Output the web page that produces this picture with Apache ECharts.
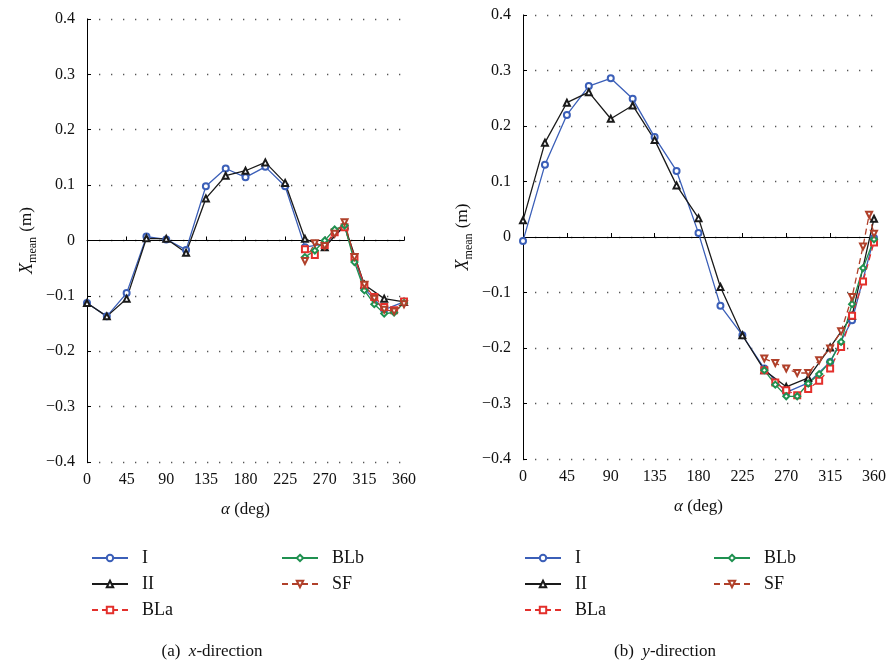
<!DOCTYPE html>
<html><head><meta charset="utf-8">
<script src="https://cdn.jsdelivr.net/npm/echarts@6/dist/echarts.min.js"></script>
<style>html,body{margin:0;padding:0;background:#fff}#c{width:893px;height:665px}</style>
</head><body><div id="c"></div>
<script>
// ---- data ----
const mainAngles = [0,22.5,45,67.5,90,112.5,135,157.5,180,202.5,225,247.5,270,292.5,315,337.5,360];
const blAngles = [247.5,258.75,270,281.25,292.5,303.75,315,326.25,337.5,348.75,360];
const sfAnglesY = [247.5,258.75,270,281.25,292.5,303.75,315,326.25,337.5,348.75,355,360];

// (a) x-direction
const I_x   = [-0.113,-0.137,-0.095,0.007,0.002,-0.017,0.098,0.130,0.114,0.133,0.098,-0.012,-0.006,0.025,-0.087,-0.125,-0.111];
const II_x  = [-0.113,-0.137,-0.105,0.004,0.003,-0.022,0.076,0.117,0.126,0.141,0.104,0.003,-0.012,0.027,-0.080,-0.105,-0.111];
const BLa_x = [-0.016,-0.026,-0.008,0.015,0.024,-0.030,-0.081,-0.102,-0.120,-0.126,-0.110];
const BLb_x = [-0.030,-0.018,0.000,0.020,0.027,-0.039,-0.090,-0.115,-0.132,-0.130,-0.113];
const SF_x  = [-0.037,-0.005,-0.010,0.012,0.033,-0.030,-0.080,-0.105,-0.125,-0.128,-0.115];

// (b) y-direction
const I_y   = [-0.007,0.130,0.220,0.272,0.286,0.249,0.180,0.119,0.007,-0.124,-0.177,-0.237,-0.280,-0.263,-0.225,-0.150,-0.002];
const II_y  = [0.030,0.170,0.242,0.261,0.213,0.237,0.175,0.093,0.034,-0.090,-0.177,-0.240,-0.270,-0.254,-0.199,-0.142,0.033];
const BLa_y = [-0.240,-0.262,-0.276,-0.285,-0.274,-0.259,-0.237,-0.198,-0.142,-0.080,-0.010];
const BLb_y = [-0.240,-0.266,-0.287,-0.287,-0.264,-0.247,-0.225,-0.189,-0.121,-0.056,-0.004];
const SF_y  = [-0.219,-0.227,-0.237,-0.245,-0.245,-0.222,-0.201,-0.170,-0.108,-0.017,0.040,0.006];

const xTicks = [0,45,90,135,180,225,270,315,360];
const yTicks = [-0.4,-0.3,-0.2,-0.1,0,0.1,0.2,0.3,0.4];
const seriesNames = ['I','II','BLa','BLb','SF'];
const captions = ['(a)  {i|x}-direction','(b)  {i|y}-direction'];

// ---- styling ----
const FONT = '"Liberation Serif", "DejaVu Serif", serif';
const colors = {I:'#3b5fb8', II:'#1a1a1a', BLa:'#e3302c', BLb:'#1f9150', SF:'#b0402a'};
const sym = {I:'emptyCircle', II:'emptyTriangle', BLa:'emptyRect', BLb:'emptyDiamond', SF:'emptyTriangle'};
const rot = {SF:180};
const dashed = {BLa:true, SF:true};

const pairs = (xs, ys) => xs.map((x,i)=>[x, ys[i]]);
const fmtY = v => { const r = Math.round(v*10)/10; return r===0 ? '0' : (r<0 ? '\u2212'+Math.abs(r).toFixed(1) : r.toFixed(1)); };

function xAxis(gi){
  return {type:'value', gridIndex:gi, min:xTicks[0], max:xTicks[xTicks.length-1], interval:45,
    name:'{a|\u03b1} (deg)', nameLocation:'middle', nameGap:39,
    nameTextStyle:{fontFamily:FONT, fontSize:17, color:'#111', rich:{a:{fontFamily:FONT,fontSize:17,fontStyle:'italic',color:'#111'}}},
    axisLine:{show:true, lineStyle:{color:'#000', width:1}},
    axisTick:{show:true, inside:true, length:4, lineStyle:{color:'#000'}},
    axisLabel:{fontFamily:FONT, fontSize:16, color:'#111', margin:10},
    splitLine:{show:false}};
}
function yAxis(gi){
  return {type:'value', gridIndex:gi, min:yTicks[0], max:yTicks[yTicks.length-1], interval:0.1,
    name:'{x|X}{s|mean} (m)', nameLocation:'middle', nameGap:48, nameRotate:90,
    nameTextStyle:{fontFamily:FONT, fontSize:17, color:'#111',
      rich:{x:{fontFamily:FONT,fontSize:18,fontStyle:'italic',color:'#111'},
            s:{fontFamily:FONT,fontSize:12,color:'#111',padding:[12,1,0,0]}}},
    axisLine:{show:true, onZero:false, lineStyle:{color:'#000', width:1}},
    axisTick:{show:true, inside:true, length:4, lineStyle:{color:'#000'}},
    axisLabel:{fontFamily:FONT, fontSize:16, color:'#111', margin:12, formatter:fmtY},
    splitLine:{show:true, lineStyle:{color:'#555', width:1.3, type:[1.3,10.7]}}};
}

const dataSets = [
  {I:pairs(mainAngles,I_x), II:pairs(mainAngles,II_x), BLa:pairs(blAngles,BLa_x), BLb:pairs(blAngles,BLb_x), SF:pairs(blAngles,SF_x)},
  {I:pairs(mainAngles,I_y), II:pairs(mainAngles,II_y), BLa:pairs(blAngles,BLa_y), BLb:pairs(blAngles,BLb_y), SF:pairs(sfAnglesY,SF_y)}
];

const series = [];
dataSets.forEach((ds, gi) => {
  seriesNames.forEach(n => {
    series.push({name:n, type:'line', xAxisIndex:gi, yAxisIndex:gi, data:ds[n],
      symbol:sym[n], symbolSize:6, symbolRotate:rot[n]||0, showAllSymbol:true,
      color:colors[n],
      lineStyle:{color:colors[n], width:1.3, type: dashed[n] ? [6,4] : 'solid'},
      itemStyle:{color:colors[n], borderColor:colors[n], borderWidth:1.2},
      emphasis:{disabled:true}, animation:false});
  });
});

function legend(left, names){
  return {show:true, orient:'vertical', left:left, top:544, itemWidth:36, itemHeight:8, itemGap:8,
    data:names, selectedMode:false,
    textStyle:{fontFamily:FONT, fontSize:18, color:'#111', padding:[0,0,0,9]}};
}

const chart = echarts.init(document.getElementById('c'), null, {renderer:'canvas'});
chart.setOption({
  backgroundColor:'#fff',
  animation:false,
  grid:[{left:87, right:489, top:19, bottom:203}, {left:523, right:19, top:15, bottom:206}],
  xAxis:[xAxis(0), xAxis(1)],
  yAxis:[yAxis(0), yAxis(1)],
  legend:[legend(86,['I','II','BLa']), legend(276,['BLb','SF']), legend(519,['I','II','BLa']), legend(708,['BLb','SF'])],
  graphic:[
    {type:'text', x:212, y:652, style:{text:captions[0], fill:'#111', font:'17px '+FONT, align:'center', verticalAlign:'middle',
      rich:{i:{fontStyle:'italic', fontFamily:FONT, fontSize:17, fill:'#111'}}}},
    {type:'text', x:665, y:652, style:{text:captions[1], fill:'#111', font:'17px '+FONT, align:'center', verticalAlign:'middle',
      rich:{i:{fontStyle:'italic', fontFamily:FONT, fontSize:17, fill:'#111'}}}}
  ],
  series:series
});
</script></body></html>
